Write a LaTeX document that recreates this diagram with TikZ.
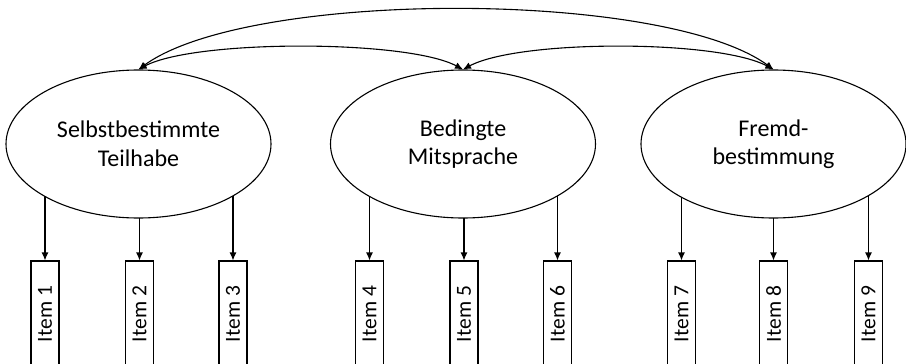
\documentclass[tikz,border=0pt]{standalone}
\usepackage{fontspec}
\setmainfont{Carlito}
\usetikzlibrary{shapes.geometric,arrows.meta,calc}
\begin{document}
\begin{tikzpicture}[x=1pt,y=-1pt,
  latent/.style={ellipse,draw,line width=1.1pt,minimum width=265pt,minimum height=148pt,inner sep=0pt,align=center,font=\fontsize{24}{28.5}\selectfont},
  itembox/.style={draw,line width=1.1pt,minimum width=28pt,minimum height=106pt,inner sep=0pt,font=\fontsize{21.5}{24}\selectfont},
  load/.style={-{Latex[length=8pt,width=7pt]},line width=1.1pt},
  cov/.style={{Latex[length=8pt,width=7pt]}-{Latex[length=8pt,width=7pt]},line width=1.1pt}]
\useasboundingbox (0,0) rectangle (906,364);
\clip (0,0) rectangle (906,364);
\node[latent] (e1) at (138.5,144) {Selbstbestimmte\\Teilhabe};
\node[latent] (e2) at (463,144) {Bedingte\\Mitsprache};
\node[latent] (e3) at (773.5,144) {Fremd-\\bestimmung};
\draw[cov] (e1.north) .. controls +(56,-30) and +(-56,-30) .. (e2.north);
\draw[cov] (e2.north) .. controls +(56,-30) and +(-56,-30) .. (e3.north);
\draw[cov] (e1.north) .. controls +(110,-80) and +(-110,-80) .. (e3.north);
\foreach \i/\x/\e in {1/45/1,2/139.5/1,3/233/1,4/369.5/2,5/464/2,6/557.5/2,7/681.5/3,8/773.5/3,9/868.5/3}{
  \node[itembox] (i\i) at (\x,314) {\rotatebox{90}{Item \i}};
  \draw[load] let \p1=(e\e.center), \p2=(i\i.north) in
    (\x2,{\y1-74pt*sqrt(1-((\x2-\x1)/132.5pt)^2)}) -- (i\i.north);
}
\end{tikzpicture}
\end{document}
